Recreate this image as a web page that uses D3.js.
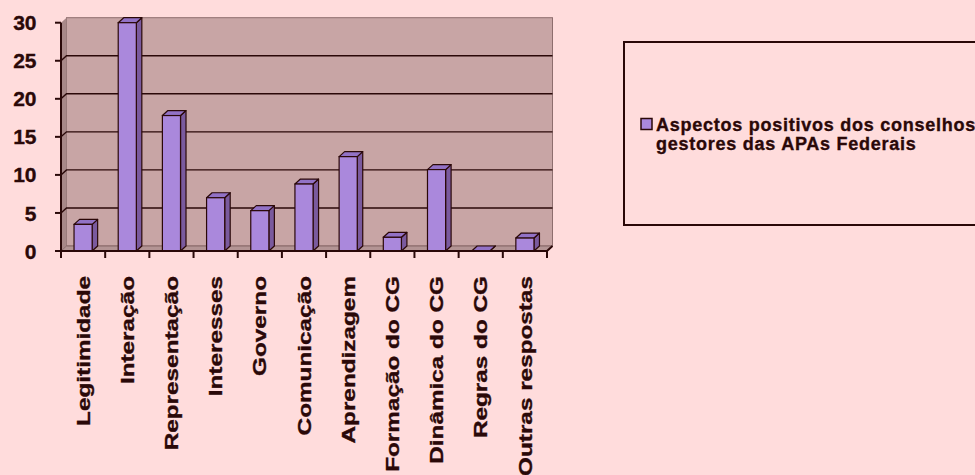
<!DOCTYPE html>
<html>
<head>
<meta charset="utf-8">
<script src="https://cdn.jsdelivr.net/npm/d3@7"></script>
<style>
  html, body { margin: 0; padding: 0; background: #FFDCDC; }
  svg { display: block; }
  text { font-family: Arial, "Liberation Sans", sans-serif; font-weight: bold; fill: #2A0808;
         stroke: #2A0808; stroke-width: 0.35px; }
</style>
</head>
<body>
<svg id="chart" width="975" height="475"></svg>
<script>
// Category labels (x axis)
const categories = [
  "Legitimidade", "Interação", "Representação", "Interesses", "Governo",
  "Comunicação", "Aprendizagem", "Formação do CG", "Dinâmica do CG",
  "Regras do CG", "Outras respostas"
];
// Series values
const values = [3.5, 30, 17.8, 7.0, 5.3, 8.8, 12.4, 1.8, 10.7, 0, 1.7];
// Y axis ticks
const yTicks = [0, 5, 10, 15, 20, 25, 30];
// Series name, split as it wraps in the legend
const seriesName = ["Aspectos positivos dos conselhos", "gestores das APAs Federais"];

const svg = d3.select("#chart");
const dark = "#2A0808";

// Plot geometry (front plane) and 3-D depth offset
const plotLeft = 61, plotRight = 547, plotBottom = 251, plotTop = 22.7;
const dx = 5.5, dy = 5;

const x = d3.scaleBand().domain(categories).range([plotLeft, plotRight]).padding(0);
const y = d3.scaleLinear().domain([0, 30]).range([plotBottom, plotTop]);
const barW = x.bandwidth() * 0.41;

// Back wall
svg.append("rect")
  .attr("x", plotLeft + dx).attr("y", plotTop - dy)
  .attr("width", plotRight - plotLeft).attr("height", plotBottom - plotTop)
  .attr("fill", "#C8A5A5").attr("stroke", "#8E6E6E").attr("stroke-width", 1);

// Side wall
svg.append("path")
  .attr("d", `M${plotLeft},${plotBottom}L${plotLeft},${plotTop}L${plotLeft + dx},${plotTop - dy}L${plotLeft + dx},${plotBottom - dy}Z`)
  .attr("fill", "#A88888").attr("stroke", "none");

// Floor
svg.append("path")
  .attr("d", `M${plotLeft},${plotBottom}L${plotRight},${plotBottom}L${plotRight + dx},${plotBottom - dy}L${plotLeft + dx},${plotBottom - dy}Z`)
  .attr("fill", "#B39494").attr("stroke", "#7E5E5E").attr("stroke-width", 0.8);

// Gridlines along side wall and back wall
svg.append("g").selectAll("path")
  .data(yTicks.filter(t => t > 0 && t < 30))
  .join("path")
  .attr("d", t => `M${plotLeft},${y(t)}L${plotLeft + dx},${y(t) - dy}L${plotRight + dx},${y(t) - dy}`)
  .attr("fill", "none").attr("stroke", dark).attr("stroke-width", 1.4);

// Bars: front, side and top faces
const bars = svg.append("g").selectAll("g")
  .data(categories.map((c, i) => ({ c, v: values[i] })))
  .join("g");

const bx = d => x(d.c) + (x.bandwidth() - barW) / 2;

bars.append("path") // side
  .attr("d", d => {
    const x1 = bx(d) + barW, yt = y(d.v);
    return `M${x1},${yt}L${x1 + dx},${yt - dy}L${x1 + dx},${plotBottom - dy}L${x1},${plotBottom}Z`;
  })
  .attr("fill", "#7A5A9E").attr("stroke", dark).attr("stroke-width", 1.2).attr("stroke-linejoin", "round");

bars.append("path") // top
  .attr("d", d => {
    const x0 = bx(d), yt = y(d.v);
    return `M${x0},${yt}L${x0 + dx},${yt - dy}L${x0 + barW + dx},${yt - dy}L${x0 + barW},${yt}Z`;
  })
  .attr("fill", "#9272C6").attr("stroke", dark).attr("stroke-width", 1.2).attr("stroke-linejoin", "round");

bars.filter(d => d.v > 0).append("rect") // front
  .attr("x", bx).attr("y", d => y(d.v))
  .attr("width", barW).attr("height", d => plotBottom - y(d.v))
  .attr("fill", "#AA88DC").attr("stroke", dark).attr("stroke-width", 1.2);

// Y axis
const yAxis = svg.append("g");
yAxis.append("line")
  .attr("x1", plotLeft).attr("x2", plotLeft).attr("y1", plotTop).attr("y2", plotBottom)
  .attr("stroke", dark).attr("stroke-width", 2);
yAxis.selectAll("line.tick").data(yTicks).join("line")
  .attr("class", "tick")
  .attr("x1", plotLeft - 6).attr("x2", plotLeft).attr("y1", d => y(d)).attr("y2", d => y(d))
  .attr("stroke", dark).attr("stroke-width", 2);
yAxis.selectAll("text").data(yTicks).join("text")
  .attr("x", 36.5).attr("y", d => y(d)).attr("dy", "0.36em")
  .attr("text-anchor", "end")
  .style("font-size", "21px")
  .text(d => d);

// X axis
const xAxis = svg.append("g");
xAxis.append("path")
  .attr("d", `M${plotLeft},${plotBottom}L${plotRight},${plotBottom}L${plotRight + dx},${plotBottom - dy}`)
  .attr("fill", "none").attr("stroke", dark).attr("stroke-width", 2);
const bounds = categories.map(c => x(c)).concat([plotRight]);
xAxis.selectAll("line.tick").data(bounds).join("line")
  .attr("class", "tick")
  .attr("x1", d => d).attr("x2", d => d).attr("y1", plotBottom).attr("y2", plotBottom + 7)
  .attr("stroke", dark).attr("stroke-width", 2);
// Category labels read upward, glyphs widened along the reading direction
xAxis.selectAll("text").data(categories).join("text")
  .attr("transform", c => `translate(${x(c) + x.bandwidth() / 2},${276}) rotate(-90) scale(1.28,1)`)
  .attr("dy", "0.35em")
  .attr("text-anchor", "end")
  .style("font-size", "19px")
  .text(c => c);

// Legend
const legend = svg.append("g");
legend.append("rect")
  .attr("x", 624).attr("y", 42).attr("width", 400).attr("height", 183)
  .attr("fill", "none").attr("stroke", dark).attr("stroke-width", 2);
legend.append("rect")
  .attr("x", 641).attr("y", 118.5).attr("width", 11).attr("height", 11)
  .attr("fill", "#AA88DC").attr("stroke", dark).attr("stroke-width", 1.5);
legend.append("text")
  .attr("x", 656).attr("y", 131)
  .style("font-size", "18px").style("letter-spacing", "0.75px")
  .selectAll("tspan").data(seriesName).join("tspan")
  .attr("x", 656).attr("dy", (d, i) => i === 0 ? 0 : 18.5)
  .text(d => d);
</script>
</body>
</html>
